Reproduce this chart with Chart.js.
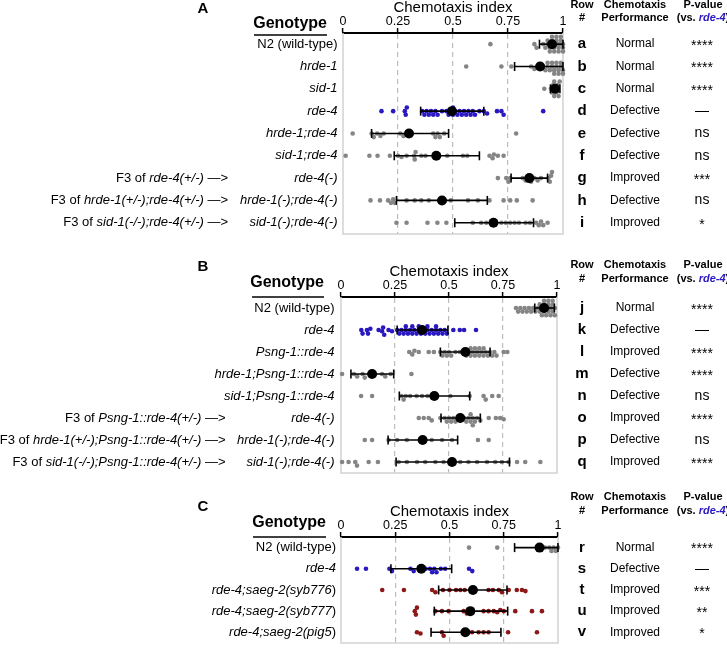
<!DOCTYPE html>
<html>
<head>
<meta charset="utf-8">
<script src="https://cdn.jsdelivr.net/npm/chart.js@4.4.0/dist/chart.umd.min.js"></script>
<style>
  html, body { margin: 0; padding: 0; background: #fff; }
  #wrap { position: relative; width: 727px; height: 649px; overflow: hidden; }
  .pane { position: absolute; left: 0; width: 727px; }
</style>
</head>
<body>
<div id="wrap">
  <div class="pane" style="top:0;height:240px"><canvas id="chartA"></canvas></div>
  <div class="pane" style="top:240px;height:240px"><canvas id="chartB"></canvas></div>
  <div class="pane" style="top:480px;height:169px"><canvas id="chartC"></canvas></div>
</div>
<script>
/* ===== chemotaxis index panels A / B / C ===== */
const FONT = '"Liberation Sans", Arial, Helvetica, sans-serif';
const GRAY = '#858585', BLUE = '#2a18c0', RED = '#8e1818';

// ---- panel A ---- (_text_ = italic)
const labelsA = ['N2 (wild-type)', '_hrde-1_', '_sid-1_', '_rde-4_', '_hrde-1;rde-4_', '_sid-1;rde-4_', '_rde-4(-)_', '_hrde-1(-);rde-4(-)_', '_sid-1(-);rde-4(-)_'];
const prefixA = ['', '', '', '', '', '', 'F3 of _rde-4(+/-)_ —>', 'F3 of _hrde-1(+/-);rde-4(+/-)_ —>', 'F3 of _sid-1(-/-);rde-4(+/-)_ —>'];
const rowIdA = ['a', 'b', 'c', 'd', 'e', 'f', 'g', 'h', 'i'];
const perfA = ['Normal', 'Normal', 'Normal', 'Defective', 'Defective', 'Defective', 'Improved', 'Defective', 'Improved'];
const pvalA = ['****', '****', '****', '—', 'ns', 'ns', '***', 'ns', '*'];
const pointsA = [
  [0.67, 0.87, 0.88, 0.91, 0.92, 0.93, 0.93, 0.94, 0.94, 0.95, 0.95, 0.95, 0.96, 0.96, 0.96, 0.97, 0.97, 0.97, 0.97, 0.98, 0.98, 0.98, 0.99, 0.99, 0.99, 1.0, 1.0, 1.0],
  [0.56, 0.72, 0.765, 0.855, 0.87, 0.89, 0.91, 0.92, 0.93, 0.93, 0.94, 0.95, 0.95, 0.96, 0.96, 0.97, 0.97, 0.98, 0.98, 0.99, 0.99, 1.0, 1.0],
  [0.915, 0.945, 0.95, 0.955, 0.96, 0.96, 0.965, 0.97, 0.97, 0.975, 0.98, 0.985],
  [0.175, 0.228, 0.281, 0.285, 0.29, 0.36, 0.37, 0.38, 0.39, 0.40, 0.41, 0.42, 0.43, 0.45, 0.47, 0.48, 0.49, 0.50, 0.50, 0.51, 0.52, 0.53, 0.54, 0.55, 0.56, 0.57, 0.58, 0.59, 0.60, 0.62, 0.64, 0.655, 0.70, 0.72, 0.73, 0.91],
  [0.044, 0.13, 0.14, 0.155, 0.17, 0.185, 0.26, 0.275, 0.30, 0.41, 0.42, 0.43, 0.44, 0.46, 0.787],
  [0.012, 0.12, 0.157, 0.213, 0.25, 0.266, 0.289, 0.323, 0.326, 0.33, 0.356, 0.375, 0.424, 0.474, 0.545, 0.565, 0.666, 0.68, 0.686, 0.704, 0.73],
  [0.704, 0.742, 0.752, 0.76, 0.817, 0.83, 0.845, 0.855, 0.87, 0.885, 0.90, 0.934, 0.94, 0.946, 0.95],
  [0.125, 0.168, 0.205, 0.218, 0.228, 0.235, 0.289, 0.326, 0.356, 0.39, 0.45, 0.49, 0.568, 0.613, 0.666, 0.73, 0.76, 0.79, 0.862],
  [0.243, 0.289, 0.384, 0.429, 0.47, 0.59, 0.628, 0.651, 0.674, 0.69, 0.72, 0.74, 0.76, 0.78, 0.80, 0.83, 0.85, 0.878, 0.89, 0.90, 0.91, 0.93]
];
const meanA = [0.95, 0.896, 0.964, 0.495, 0.30, 0.424, 0.847, 0.45, 0.684];
const loA = [0.893, 0.78, 0.943, 0.353, 0.13, 0.233, 0.764, 0.243, 0.508];
const hiA = [1.0, 1.0, 0.986, 0.64, 0.48, 0.62, 0.93, 0.656, 0.866];

// ---- panel B ----
const labelsB = ['N2 (wild-type)', '_rde-4_', '_Psng-1::rde-4_', '_hrde-1;Psng-1::rde-4_', '_sid-1;Psng-1::rde-4_', '_rde-4(-)_', '_hrde-1(-);rde-4(-)_', '_sid-1(-);rde-4(-)_'];
const prefixB = ['', '', '', '', '', 'F3 of _Psng-1::rde-4(+/-)_ —>', 'F3 of _hrde-1(+/-);Psng-1::rde-4(+/-)_ —>', 'F3 of _sid-1(-/-);Psng-1::rde-4(+/-)_ —>'];
const rowIdB = ['j', 'k', 'l', 'm', 'n', 'o', 'p', 'q'];
const perfB = ['Normal', 'Defective', 'Improved', 'Defective', 'Defective', 'Improved', 'Defective', 'Improved'];
const pvalB = ['****', '—', '****', '****', 'ns', '****', 'ns', '****'];
const pointsB = [
  [0.81, 0.82, 0.83, 0.84, 0.85, 0.86, 0.87, 0.88, 0.89, 0.90, 0.91, 0.92, 0.92, 0.93, 0.93, 0.94, 0.94, 0.94, 0.95, 0.95, 0.95, 0.95, 0.96, 0.96, 0.96, 0.96, 0.97, 0.97, 0.97, 0.97, 0.98, 0.98, 0.98, 0.99, 0.99],
  [0.094, 0.10, 0.12, 0.125, 0.136, 0.174, 0.19, 0.195, 0.20, 0.22, 0.236, 0.26, 0.27, 0.28, 0.29, 0.30, 0.30, 0.31, 0.32, 0.33, 0.33, 0.34, 0.35, 0.36, 0.36, 0.37, 0.38, 0.39, 0.40, 0.40, 0.41, 0.42, 0.43, 0.44, 0.44, 0.45, 0.46, 0.47, 0.48, 0.49, 0.52, 0.55, 0.57, 0.625],
  [0.316, 0.33, 0.34, 0.36, 0.406, 0.43, 0.46, 0.47, 0.48, 0.49, 0.50, 0.51, 0.53, 0.55, 0.57, 0.58, 0.59, 0.60, 0.60, 0.61, 0.62, 0.62, 0.63, 0.64, 0.64, 0.65, 0.66, 0.66, 0.67, 0.68, 0.69, 0.70, 0.71, 0.72, 0.753, 0.77],
  [0.005, 0.06, 0.075, 0.10, 0.11, 0.144, 0.19, 0.205, 0.23, 0.326],
  [0.093, 0.144, 0.28, 0.29, 0.30, 0.32, 0.35, 0.375, 0.40, 0.432, 0.506, 0.596, 0.66, 0.67, 0.70, 0.73],
  [0.36, 0.383, 0.406, 0.42, 0.46, 0.48, 0.49, 0.50, 0.51, 0.52, 0.53, 0.55, 0.57, 0.58, 0.59, 0.60, 0.60, 0.61, 0.61, 0.62, 0.63, 0.645, 0.684, 0.717, 0.737, 0.753],
  [0.11, 0.144, 0.22, 0.26, 0.305, 0.378, 0.42, 0.468, 0.514, 0.634, 0.684],
  [0.005, 0.035, 0.066, 0.074, 0.128, 0.171, 0.267, 0.305, 0.352, 0.39, 0.437, 0.475, 0.514, 0.552, 0.59, 0.63, 0.676, 0.714, 0.745, 0.776, 0.815, 0.853, 0.923]
];
const meanB = [0.94, 0.375, 0.576, 0.144, 0.432, 0.552, 0.378, 0.514];
const loB = [0.897, 0.26, 0.46, 0.046, 0.27, 0.463, 0.218, 0.255];
const hiB = [0.988, 0.495, 0.69, 0.244, 0.596, 0.645, 0.54, 0.78];

// ---- panel C ----
const labelsC = ['N2 (wild-type)', '_rde-4_', '_rde-4;saeg-2(syb776_)', '_rde-4;saeg-2(syb777_)', '_rde-4;saeg-2(pig5_)'];
const prefixC = ['', '', '', '', ''];
const rowIdC = ['r', 's', 't', 'u', 'v'];
const perfC = ['Normal', 'Defective', 'Improved', 'Improved', 'Improved'];
const pvalC = ['****', '—', '***', '**', '*'];
const pointsC = [
  [0.59, 0.72, 0.94, 0.96, 0.97, 0.98, 0.99, 1.0],
  [0.074, 0.115, 0.223, 0.235, 0.32, 0.335, 0.36, 0.39, 0.41, 0.42, 0.43, 0.44, 0.46, 0.48, 0.59, 0.605],
  [0.19, 0.29, 0.42, 0.435, 0.47, 0.50, 0.53, 0.55, 0.57, 0.608, 0.68, 0.70, 0.727, 0.742, 0.773, 0.81, 0.834, 0.85],
  [0.34, 0.345, 0.35, 0.435, 0.465, 0.496, 0.565, 0.58, 0.657, 0.68, 0.704, 0.72, 0.734, 0.75, 0.803, 0.88, 0.926],
  [0.35, 0.366, 0.465, 0.473, 0.573, 0.604, 0.634, 0.657, 0.68, 0.77, 0.903]
];
const meanC = [0.915, 0.37, 0.608, 0.596, 0.573];
const loC = [0.80, 0.23, 0.45, 0.43, 0.415];
const hiC = [1.0, 0.51, 0.765, 0.768, 0.737];

// small beeswarm: nudge overlapping dots up/down a few px (returned in row units)
function swarm(vals, row) {
  const placed = [];
  return vals.slice().sort((a, b) => a - b).map(v => {
    const px = v * 218;
    let dy = 0;
    for (let k = 0; k < 15; k++) {
      const cand = (k % 2 ? 1 : -1) * Math.ceil(k / 2) * 1.2;
      const hit = placed.some(p => { const dx = p.px - px, d = p.dy - cand; return dx * dx + d * d < 12.5; });
      if (!hit) { dy = cand; break; }
      if (k === 14) dy = 0;
    }
    placed.push({ px, dy });
    return { x: v, y: row + dy / 22 };
  });
}

// text with _italic_ segments
function rich(ctx, text, x, y, align, size, bold, emColor) {
  const parts = text.split('_');
  const w = bold ? 'bold ' : '';
  const fonts = parts.map((s, k) => (k % 2 ? 'italic ' : '') + w + size + 'px ' + FONT);
  let total = 0;
  parts.forEach((s, k) => { ctx.font = fonts[k]; total += ctx.measureText(s).width; });
  let cx = align === 'right' ? x - total : align === 'center' ? x - total / 2 : x;
  ctx.textAlign = 'left';
  ctx.textBaseline = 'middle';
  parts.forEach((s, k) => {
    ctx.font = fonts[k];
    ctx.fillStyle = (k % 2 && emColor) ? emColor : '#000';
    ctx.fillText(s, cx, y);
    cx += ctx.measureText(s).width;
  });
}

function drawText(chart, p) {
  const ctx = chart.ctx, ys = chart.scales.y;
  ctx.save();
  rich(ctx, p.tag, 203, p.tagY, 'center', 15, true);
  rich(ctx, 'Genotype', p.genoR, p.genoY, 'right', 16, true);
  ctx.strokeStyle = '#000'; ctx.lineWidth = 1.6;
  ctx.beginPath(); ctx.moveTo(p.genoL, p.lineY); ctx.lineTo(p.genoR, p.lineY); ctx.stroke();
  // column headers
  rich(ctx, 'Row', 582, p.hdr[0], 'center', 11, true);
  rich(ctx, '#', 582, p.hdr[1], 'center', 11, true);
  rich(ctx, 'Chemotaxis', 635, p.hdr[0], 'center', 11, true);
  rich(ctx, 'Performance', 635, p.hdr[1], 'center', 11, true);
  rich(ctx, 'P-value', 703, p.hdr[0], 'center', 11, true);
  rich(ctx, '(vs. _rde-4_)', 703, p.hdr[1], 'center', 11, true, BLUE);
  p.labels.forEach((lab, i) => {
    const y = ys.getPixelForValue(i);
    rich(ctx, lab, p.labR, y, 'right', 13, false);
    if (p.prefix[i]) rich(ctx, p.prefix[i], p.preR, y, 'right', 13, false);
    rich(ctx, p.ids[i], 582, y, 'center', 15, true);
    rich(ctx, p.perf[i], 635, y, 'center', 12, false);
    rich(ctx, p.pval[i], 702, p.pval[i].indexOf('*') === 0 ? y + 2 : y, 'center', 14, false);
  });
  ctx.restore();
}

function drawFrame(chart) {
  const { ctx, chartArea: a } = chart;
  ctx.save();
  ctx.strokeStyle = '#d2d2d2'; ctx.lineWidth = 1.5;
  ctx.beginPath();
  ctx.moveTo(a.left, a.top); ctx.lineTo(a.left, a.bottom);
  ctx.lineTo(a.right, a.bottom); ctx.lineTo(a.right, a.top);
  ctx.stroke();
  ctx.restore();
}

function panel(canvasId, p) {
  const n = p.labels.length;
  const datasets = [];
  p.points.forEach((vals, i) => {
    datasets.push({ data: swarm(vals, i), pointBackgroundColor: p.color(i), pointBorderWidth: 0, pointRadius: 2.3, clip: false, order: 3 });
  });
  p.lo.forEach((lo, i) => {
    datasets.push({ data: [{ x: lo, y: i }, { x: p.hi[i], y: i }], showLine: true, borderColor: '#000', borderWidth: 1.6,
      pointStyle: 'line', pointRotation: 90, pointRadius: 4.5, pointBorderWidth: 1.6, pointBorderColor: '#000', clip: false, order: 2 });
  });
  datasets.push({ data: p.mean.map((m, i) => ({ x: m, y: i })), pointBackgroundColor: '#000', pointBorderWidth: 0, pointRadius: 5, clip: false, order: 1 });

  new Chart(document.getElementById(canvasId), {
    type: 'scatter',
    data: { datasets },
    options: {
      responsive: true, maintainAspectRatio: false, animation: false, events: [],
      layout: { padding: { left: p.left, right: 727 - p.right, top: p.top, bottom: p.bottom } },
      plugins: { legend: { display: false }, tooltip: { enabled: false } },
      scales: {
        x: {
          type: 'linear', position: 'top', min: 0, max: 1,
          ticks: { stepSize: 0.25, color: '#000', padding: 0, maxRotation: 0, font: { family: FONT, size: 12.5, lineHeight: 1 }, callback: v => String(v) },
          grid: { color: c => (c.tick && c.tick.value > 0 && c.tick.value < 1) ? '#bcbcbc' : 'rgba(0,0,0,0)', lineWidth: 1.2, tickColor: '#000', tickLength: 5, tickWidth: 1.5 },
          border: { color: '#000', width: 2, dash: [5, 4] },
          title: { display: true, text: 'Chemotaxis index', color: '#000', padding: 0, font: { family: FONT, size: 15, lineHeight: 1 } }
        },
        y: { type: 'linear', display: false, min: -0.5, max: n - 0.5, reverse: true }
      }
    },
    plugins: [{ id: 'deco' + canvasId, beforeDatasetsDraw: drawFrame, afterDraw: c => drawText(c, p) }]
  });
}

panel('chartA', {
  tag: 'A', labels: labelsA, prefix: prefixA, ids: rowIdA, perf: perfA, pval: pvalA,
  points: pointsA, mean: meanA, lo: loA, hi: hiA, color: i => i === 3 ? BLUE : GRAY,
  left: 343, right: 563, top: 0.5, bottom: 5,
  tagY: 9, genoY: 24, lineY: 35, genoL: 254, genoR: 327, labR: 337.5, preR: 228, hdr: [5, 18]
});
panel('chartB', {
  tag: 'B', labels: labelsB, prefix: prefixB, ids: rowIdB, perf: perfB, pval: pvalB,
  points: pointsB, mean: meanB, lo: loB, hi: hiB, color: i => i === 1 ? BLUE : GRAY,
  left: 341, right: 557, top: 24.5, bottom: 7,
  tagY: 27, genoY: 43, lineY: 57, genoL: 252, genoR: 324, labR: 334.5, preR: 225.5, hdr: [25, 39]
});
panel('chartC', {
  tag: 'C', labels: labelsC, prefix: prefixC, ids: rowIdC, perf: perfC, pval: pvalC,
  points: pointsC, mean: meanC, lo: loC, hi: hiC, color: i => i === 1 ? BLUE : (i > 1 ? RED : GRAY),
  left: 341, right: 558, top: 24.5, bottom: 3,
  tagY: 27, genoY: 43, lineY: 57, genoL: 253, genoR: 326, labR: 336, preR: 225, hdr: [17, 31]
});
</script>
</body>
</html>
